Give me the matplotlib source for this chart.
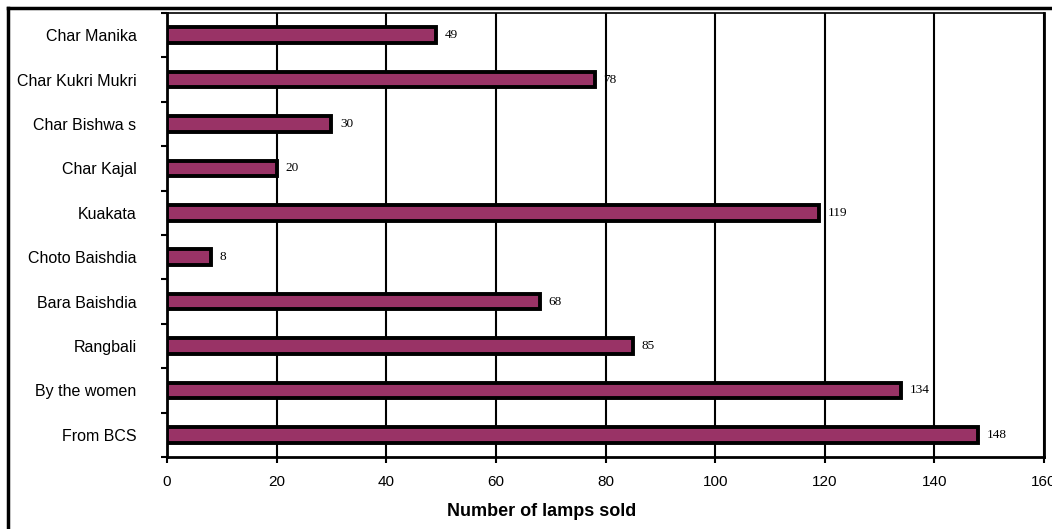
import matplotlib
matplotlib.use("Agg")
import matplotlib.pyplot as plt
from matplotlib.lines import Line2D
import numpy as np

# Lamp sales by location (top to bottom as listed)
locations = ["Char Manika", "Char Kukri Mukri", "Char Bishwa s", "Char Kajal",
             "Kuakata", "Choto Baishdia", "Bara Baishdia", "Rangbali",
             "By the women", "From BCS"]
lamps_sold = [49, 78, 30, 20, 119, 8, 68, 85, 134, 148]
x_ticks = [0, 20, 40, 60, 80, 100, 120, 140, 160]

W, H = 1052, 529
fig = plt.figure(figsize=(W / 100, H / 100), dpi=100)
ax = fig.add_axes([167 / W, 1 - 457 / H, (1044 - 167) / W, (457 - 13) / H])

n = len(locations)
y = np.arange(n)[::-1]  # first location at the top

ax.set_xlim(0, 160)
ax.set_ylim(-0.5, n - 0.5)
ax.set_xticks(x_ticks)
ax.set_xticklabels([str(t) for t in x_ticks], fontsize=11, family="Liberation Sans")
ax.xaxis.grid(True, color="black", linewidth=1.5)
ax.set_axisbelow(True)

ax.barh(y, lamps_sold, height=0.35, color="#993366", edgecolor="black",
        linewidth=2.8, zorder=3)

for yi, v in zip(y, lamps_sold):
    ax.text(v + 1.6, yi, str(v), va="center", ha="left", fontsize=9.5,
            family="Liberation Serif", zorder=4)

# category labels at bar centres, ticks at category boundaries
ax.set_yticks(y)
ax.set_yticklabels(locations, fontsize=11.5, family="Liberation Sans")
ax.tick_params(axis="y", which="major", length=0, pad=22)
ax.set_yticks(np.arange(-0.5, n, 1.0), minor=True)
ax.tick_params(axis="y", which="minor", length=4, width=1.5, direction="out")
ax.tick_params(axis="x", which="major", length=4, width=1.5, direction="out", pad=9)

for side in ("left", "bottom", "right"):
    ax.spines[side].set_linewidth(2)
ax.spines["top"].set_linewidth(1.2)

fig.text(542 / W, 1 - 512 / H, "Number of lamps sold", ha="center", va="center",
         fontsize=13, fontweight="bold", family="Liberation Sans")

# outer frame (top and left edges)
fig.add_artist(Line2D([7.5 / W, 1], [1 - 7.5 / H, 1 - 7.5 / H],
                      color="black", linewidth=2.5, transform=fig.transFigure))
fig.add_artist(Line2D([7.5 / W, 7.5 / W], [0, 1 - 7.5 / H],
                      color="black", linewidth=2.5, transform=fig.transFigure))

fig.savefig("out.png", dpi=100)
